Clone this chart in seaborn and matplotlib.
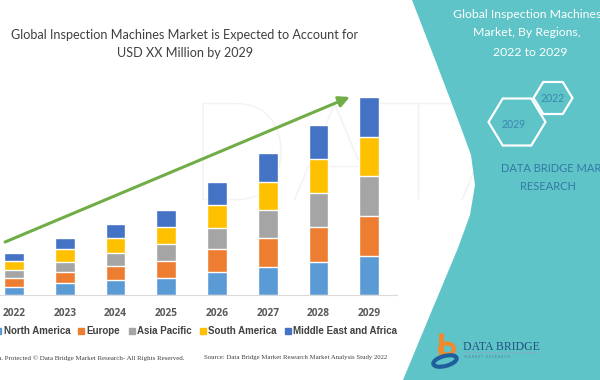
"""
Global Inspection Machines Market, stacked bars by region 2022-2029,
Data Bridge style infographic card.
"""

import numpy as np
import pandas as pd
import seaborn as sns
import matplotlib
matplotlib.use('Agg')
import matplotlib.pyplot as plt
from matplotlib.patches import Polygon, Ellipse
from matplotlib.lines import Line2D

###
#Data (arbitrary units)

YEARS = ['2022', '2023', '2024', '2025', '2026', '2027', '2028', '2029']
REGIONS = ['North America', 'Europe', 'Asia Pacific', 'South America',
           'Middle East and Africa']
NORTH_AMERICA = [8.3, 11.7, 15.0, 16.7, 23.0, 28.3, 33.3, 39.3]
EUROPE = [8.3, 11.7, 14.0, 17.7, 22.7, 28.3, 34.3, 39.7]
ASIA_PACIFIC = [8.3, 10.0, 13.3, 16.3, 21.7, 28.3, 34.0, 40.0]
SOUTH_AMERICA = [9.0, 12.3, 14.3, 17.0, 22.7, 28.3, 34.0, 39.3]
MEA = [8.3, 11.0, 14.3, 17.3, 23.0, 28.3, 34.0, 40.0]
COLORS = ['#5B9BD5', '#ED7D31', '#A5A5A5', '#FFC000', '#4472C4']

#Trend arrow (x in bar index, y in data units)
ARROW_START = (-0.18, 53)
ARROW_END = (6.62, 198)

TEAL = '#5EC4C8'

###
#Setup

sns.set_theme(style='white')
plt.rcParams['font.family'] = ['Lato', 'DejaVu Sans']

fig = plt.figure(figsize=(6, 3.8), dpi=100)

#Background axes in pixel coords for the card decorations
bg = fig.add_axes([0, 0, 1, 1], zorder=0)
bg.set_xlim(0, 600)
bg.set_ylim(380, 0)
bg.axis('off')

#faint watermark
bg.text(186, 200, 'DATAB', fontsize=100, color='#f3f3f3', fontweight='light',
        ha='left', va='baseline', zorder=0)

#teal side panel
edge = [(412, 0), (436, 62), (460, 125), (471, 155), (475, 185),
        (470, 215), (458, 248), (430, 315), (403, 380)]
panel = Polygon(edge + [(600, 380), (600, 0)], closed=True,
                facecolor=TEAL, edgecolor='none', zorder=1)
bg.add_patch(panel)

#panel title
bg.text(527, 15, 'Global Inspection Machines', color='white', fontsize=8.8,
        ha='center', va='center', zorder=3)
bg.text(527, 33, 'Market, By Regions,', color='white', fontsize=8.8,
        ha='center', va='center', zorder=3)
bg.text(530, 52, '2022 to 2029', color='white', fontsize=8.8,
        ha='center', va='center', zorder=3)

#hexagons
def hexagon(cx, cy, rx, ry):
    pts = [(cx + rx, cy), (cx + rx / 2, cy - ry), (cx - rx / 2, cy - ry),
           (cx - rx, cy), (cx - rx / 2, cy + ry), (cx + rx / 2, cy + ry)]
    return Polygon(pts, closed=True, fill=False, edgecolor='white',
                   linewidth=1.6, zorder=3)

bg.add_patch(hexagon(517, 122, 28.5, 23.5))
bg.add_patch(hexagon(553, 98, 19.5, 16))
bg.text(553, 99, '2022', color='#3C86AE', fontsize=7.6, ha='center',
        va='center', zorder=4)
bg.text(514, 124, '2029', color='#3C86AE', fontsize=7.6, ha='center',
        va='center', zorder=4)
bg.text(501, 169, 'DATA BRIDGE MARKET', color='#3479A6', fontsize=8,
        ha='left', va='center', zorder=4)
bg.text(548, 186, 'RESEARCH', color='#3479A6', fontsize=8, ha='center',
        va='center', zorder=4)

#logo
bg.plot([441, 441], [333, 356], color='#F08A2C', lw=3.5,
        solid_capstyle='butt', zorder=4)
bg.add_patch(Ellipse((447, 349), 14, 11, fill=False, edgecolor='#F08A2C',
                     lw=3, zorder=4))
bg.add_patch(Ellipse((445, 361), 24, 10, angle=-15, fill=False,
                     edgecolor='#1F5F9E', lw=3, zorder=4))
bg.text(463, 347, 'DATA BRIDGE', color='#24507E', fontsize=8.5,
        family='Liberation Serif', ha='left', va='center', zorder=4)
bg.plot([463, 540], [352, 352], color='#8aa9c4', lw=0.5, zorder=4)
bg.text(464, 356.5, 'M A R K E T   R E S E A R C H', color='#5c7f9f',
        fontsize=2.6, ha='left', va='center', zorder=4)

#footer
bg.text(185, 358, 'Data. Protected \u00a9 Data Bridge Market Research- All Rights Reserved.',
        family='Liberation Serif', fontsize=5, color='#404040', ha='right',
        va='center', zorder=3)
bg.text(204, 358, 'Source: Data Bridge Market Research Market Analysis Study 2022',
        family='Liberation Serif', fontsize=4.85, color='#404040', ha='left',
        va='center', zorder=3)

#chart title
bg.text(185, 35, 'Global Inspection Machines Market is Expected to Account for',
        fontsize=9.1, color='#404040', ha='center', va='center', zorder=3)
bg.text(185, 53, 'USD XX Million by 2029', fontsize=9.1, color='#404040',
        ha='center', va='center', zorder=3)

###
#Stacked bars

ax = fig.add_axes([0, 85 / 380, 397 / 600, 210 / 380], zorder=2)
ax.patch.set_alpha(0)

series = [NORTH_AMERICA, EUROPE, ASIA_PACIFIC, SOUTH_AMERICA, MEA]
df = pd.DataFrame(dict(zip(REGIONS, series)), index=YEARS)
cum = df.cumsum(axis=1)

#draw tallest cumulative first so lower segments cover it
for region, color in reversed(list(zip(REGIONS, COLORS))):
    sns.barplot(x=YEARS, y=cum[region].values, color=color, saturation=1,
                width=0.39, ax=ax, zorder=2)

ax.set_xlim(-0.28, 7.55)
ax.set_ylim(0, 210)
ax.set_xlabel('')
ax.set_ylabel('')
ax.set_yticks([])
for side in ['top', 'right', 'left']:
    ax.spines[side].set_visible(False)
ax.spines['bottom'].set_color('#d9d9d9')
ax.spines['bottom'].set_linewidth(0.8)
ax.tick_params(axis='x', length=0, pad=9, labelsize=7.3, labelcolor='#595959')
for lab in ax.get_xticklabels():
    lab.set_fontweight('bold')
    lab.set_family('Open Sans')

#trend arrow
ax.annotate('', xy=ARROW_END, xytext=ARROW_START,
            arrowprops=dict(arrowstyle='-|>', color='#70AD47', lw=2.2,
                            mutation_scale=16, shrinkA=0, shrinkB=0),
            zorder=5, annotation_clip=False)

#legend
handles = [Line2D([], [], marker='s', linestyle='none', markersize=5,
                  markerfacecolor=c, markeredgecolor=c) for c in COLORS]
leg = fig.legend(handles, REGIONS, ncol=5, loc='center',
                 bbox_to_anchor=(196 / 600, 1 - 331 / 380), frameon=False,
                 handlelength=0.7, handletextpad=0.2, columnspacing=0.8,
                 prop={'family': 'Liberation Sans', 'weight': 'bold', 'size': 7.0})
for t in leg.get_texts():
    t.set_color('#404040')

fig.savefig('out.png', dpi=100)
